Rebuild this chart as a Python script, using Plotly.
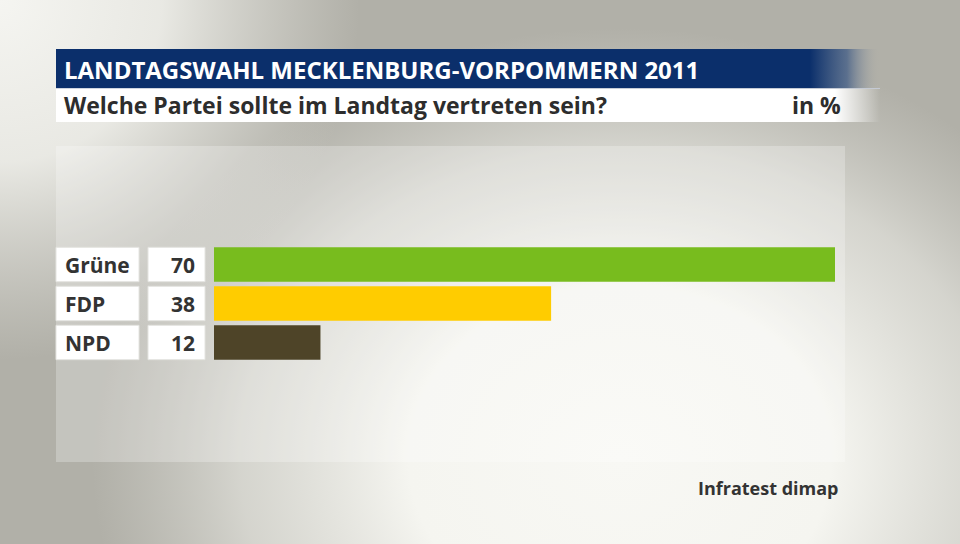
import base64
import plotly.graph_objects as go

# ---- data ----
parties = ["Grüne", "FDP", "NPD"]
values = [70, 38, 12]
bar_colors = ["#78bc1e", "#ffcc00", "#4e4428"]
title_text = "LANDTAGSWAHL MECKLENBURG-VORPOMMERN 2011"
subtitle_text = "Welche Partei sollte im Landtag vertreten sein?"
unit_text = "in %"
source_text = "Infratest dimap"

W, H = 960, 544
FONT = "Open Sans"

def px(x):
    return x / W

def py(y):
    return 1 - y / H

# ---- decorative background (gradient, header bars, panel) as SVG ----
svg = f'''<svg xmlns="http://www.w3.org/2000/svg" width="{W}" height="{H}" viewBox="0 0 {W} {H}" preserveAspectRatio="none">
<defs>
<radialGradient id="c" cx="620" cy="460" r="480" gradientUnits="userSpaceOnUse" gradientTransform="translate(620 460) scale(1.1 0.9) translate(-620 -460)">
<stop offset="0" stop-color="#f8f8f4"/>
<stop offset="0.4" stop-color="#f5f5f0"/>
<stop offset="0.72" stop-color="#e4e4de" stop-opacity="0.7"/>
<stop offset="1" stop-color="#d8d8d2" stop-opacity="0"/>
</radialGradient>
<radialGradient id="tl" cx="0" cy="0" r="360" gradientUnits="userSpaceOnUse">
<stop offset="0" stop-color="#f5f5f1"/>
<stop offset="0.45" stop-color="#efefea" stop-opacity="0.9"/>
<stop offset="1" stop-color="#e0e0da" stop-opacity="0"/>
</radialGradient>
<linearGradient id="blue" x1="56" y1="0" x2="880" y2="0" gradientUnits="userSpaceOnUse">
<stop offset="0" stop-color="#0b2f6b"/>
<stop offset="0.915" stop-color="#0b2f6b"/>
<stop offset="0.96" stop-color="#3e5a85" stop-opacity="0.75"/>
<stop offset="1" stop-color="#b0afa8" stop-opacity="0"/>
</linearGradient>
<linearGradient id="white" x1="56" y1="0" x2="880" y2="0" gradientUnits="userSpaceOnUse">
<stop offset="0" stop-color="#ffffff"/>
<stop offset="0.945" stop-color="#ffffff"/>
<stop offset="1" stop-color="#ffffff" stop-opacity="0"/>
</linearGradient>
</defs>
<rect x="0" y="0" width="{W}" height="{H}" fill="#b1b0a8"/>
<rect x="0" y="0" width="{W}" height="{H}" fill="url(#c)"/>
<rect x="0" y="0" width="{W}" height="{H}" fill="url(#tl)"/>
<rect x="56" y="146" width="789" height="316" fill="#ffffff" fill-opacity="0.25"/>
<rect x="56" y="49" width="824" height="39" fill="url(#blue)"/>
<rect x="56" y="88" width="824" height="1" fill="#c8d0de" fill-opacity="0.8"/>
<rect x="56" y="89" width="824" height="33" fill="url(#white)"/>
</svg>'''
svg_uri = "data:image/svg+xml;base64," + base64.b64encode(svg.encode("utf-8")).decode("ascii")

fig = go.Figure()
fig.add_trace(go.Bar(
    y=parties,
    x=values,
    orientation="h",
    marker=dict(color=bar_colors, line=dict(width=0)),
    hoverinfo="skip",
    showlegend=False,
))

shapes = []
annotations = []
for i, (p, v) in enumerate(zip(parties, values)):
    shapes.append(dict(type="rect", xref="paper", yref="y",
                       x0=px(56), x1=px(139), y0=i - 0.44, y1=i + 0.44,
                       fillcolor="#ffffff", line=dict(color="#e4e4e0", width=1), layer="below"))
    shapes.append(dict(type="rect", xref="paper", yref="y",
                       x0=px(148), x1=px(205), y0=i - 0.44, y1=i + 0.44,
                       fillcolor="#ffffff", line=dict(color="#e4e4e0", width=1), layer="below"))
    annotations.append(dict(xref="paper", yref="y", x=px(63), y=p, text=p,
                            xanchor="left", yanchor="middle", showarrow=False,
                            font=dict(family=FONT, size=21, color="#333333", weight="bold")))
    annotations.append(dict(xref="paper", yref="y", x=px(197), y=p, text=str(v),
                            xanchor="right", yanchor="middle", showarrow=False,
                            font=dict(family=FONT, size=21, color="#333333", weight="bold")))

annotations += [
    dict(xref="paper", yref="paper", x=px(62), y=py(69), text=title_text,
         xanchor="left", yanchor="middle", showarrow=False,
         font=dict(family=FONT, size=24, color="#ffffff", weight="bold")),
    dict(xref="paper", yref="paper", x=px(62), y=py(105), text=subtitle_text,
         xanchor="left", yanchor="middle", showarrow=False,
         font=dict(family=FONT, size=23, color="#2d2d2d", weight="bold")),
    dict(xref="paper", yref="paper", x=px(843), y=py(105), text=unit_text,
         xanchor="right", yanchor="middle", showarrow=False,
         font=dict(family=FONT, size=23, color="#2d2d2d", weight="bold")),
    dict(xref="paper", yref="paper", x=px(841), y=py(488), text=source_text,
         xanchor="right", yanchor="middle", showarrow=False,
         font=dict(family=FONT, size=18, color="#333333", weight="bold")),
]

fig.update_layout(
    width=W, height=H,
    margin=dict(l=0, r=0, t=0, b=0),
    paper_bgcolor="#b1b0a8",
    plot_bgcolor="rgba(0,0,0,0)",
    bargap=0.12,
    xaxis=dict(domain=[px(214), px(835)], range=[0, 70], visible=False, fixedrange=True),
    yaxis=dict(domain=[py(362), py(245)], range=[2.5, -0.5], type="category",
               categoryorder="array", categoryarray=parties, visible=False, fixedrange=True),
    images=[dict(source=svg_uri, xref="paper", yref="paper", x=0, y=1,
                 sizex=1, sizey=1, xanchor="left", yanchor="top",
                 sizing="stretch", layer="below")],
    shapes=shapes,
    annotations=annotations,
)

fig.write_html("out.html", config={"displayModeBar": False},
               post_script="document.body.style.margin='0';document.body.style.overflow='hidden';")
